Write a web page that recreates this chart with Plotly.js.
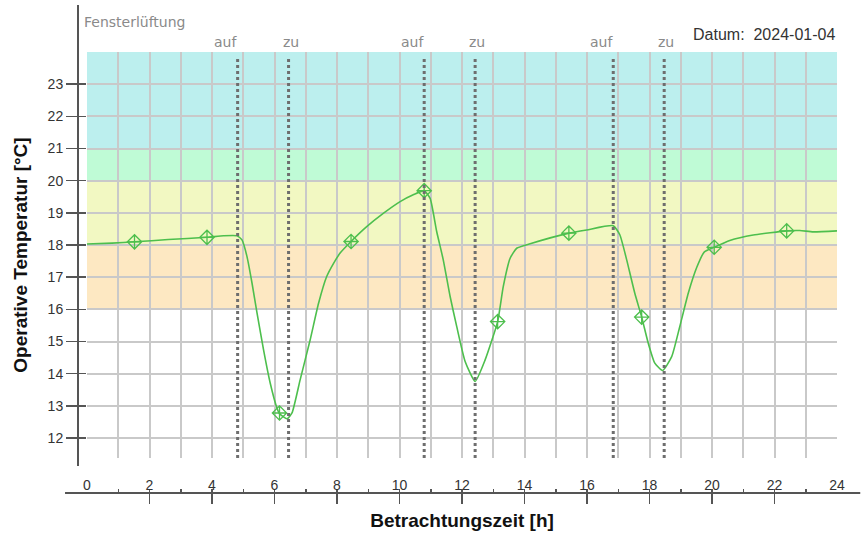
<!DOCTYPE html>
<html>
<head>
<meta charset="utf-8">
<script src="https://cdn.plot.ly/plotly-3.0.1.min.js"></script>
<style>html,body{margin:0;padding:0;background:#fff;}#chart{width:861px;height:538px;}</style>
</head>
<body>
<div id="chart"></div>
<script>
// Temperature curve (hours, °C)
const hours = [0.00, 0.80, 1.52, 2.60, 3.84, 4.37, 4.80, 4.96, 5.12, 5.28, 5.44, 5.65, 5.86, 6.08, 6.16, 6.40, 6.56, 6.82, 7.14, 7.41, 7.67, 7.89, 8.10, 8.45, 8.95, 9.49, 10.02, 10.44, 10.79, 10.98, 11.19, 11.40, 11.62, 11.83, 12.10, 12.42, 12.74, 13.14, 13.32, 13.54, 13.75, 14.18, 15.42, 15.99, 16.84, 17.05, 17.27, 17.53, 17.75, 17.96, 18.17, 18.42, 18.71, 18.97, 19.24, 19.51, 19.75, 20.07, 20.57, 21.32, 22.39, 22.81, 23.24, 24.00];
const temps = [18.03, 18.06, 18.10, 18.17, 18.24, 18.29, 18.29, 18.16, 17.64, 16.82, 15.89, 14.74, 13.72, 12.93, 12.76, 12.60, 12.78, 13.81, 15.05, 16.19, 17.02, 17.43, 17.75, 18.11, 18.57, 18.99, 19.35, 19.56, 19.69, 19.45, 18.42, 17.54, 16.40, 15.47, 14.38, 13.76, 14.43, 15.62, 16.71, 17.59, 17.90, 18.04, 18.37, 18.47, 18.60, 18.32, 17.54, 16.50, 15.76, 14.95, 14.33, 14.10, 14.53, 15.47, 16.50, 17.30, 17.78, 17.93, 18.14, 18.31, 18.44, 18.45, 18.41, 18.44];
// Marker points
const markerHours = [1.52, 3.84, 6.16, 8.45, 10.79, 13.14, 15.42, 17.75, 20.07, 22.39];
const markerTemps = [18.10, 18.24, 12.78, 18.11, 19.69, 15.62, 18.37, 15.76, 17.93, 18.44];
// Window ventilation events
const eventHours = [4.82, 6.45, 10.79, 12.42, 16.84, 18.47];
const eventLabels = ['auf', 'zu', 'auf', 'zu', 'auf', 'zu'];
// Comfort bands
const bandLow = [16, 18, 20, 21];
const bandHigh = [18, 20, 21, 24];
const bandColors = ['#fde8c2', '#f2f8c2', '#bffbd6', '#bcefee'];
// Axis ticks
const xTickVals = [0, 2, 4, 6, 8, 10, 12, 14, 16, 18, 20, 22, 24];
const yTickVals = [12, 13, 14, 15, 16, 17, 18, 19, 20, 21, 22, 23];
const dateText = 'Datum:  2024-01-04';

const green = '#4dbf4d';
const shapes = [];
bandLow.forEach((lo, i) => {
  shapes.push({type: 'rect', xref: 'x domain', yref: 'y', x0: 0, x1: 1, y0: lo, y1: bandHigh[i],
    fillcolor: bandColors[i], line: {width: 0}, layer: 'below'});
});
eventHours.forEach(h => {
  shapes.push({type: 'line', xref: 'x', yref: 'y domain', x0: h, x1: h, y0: 0, y1: 0.985,
    line: {color: '#6e6e6e', width: 3, dash: 'dot'}, layer: 'above'});
});
// y axis line (left of plot area)
shapes.push({type: 'line', xref: 'paper', yref: 'paper', x0: -0.012, x1: -0.012, y0: 0.092, y1: 1.103,
  line: {color: '#555', width: 2}});
// x axis line (below plot)
shapes.push({type: 'line', xref: 'paper', yref: 'paper', x0: -0.0293, x1: 1.031, y0: 0.0329, y1: 0.0329,
  line: {color: '#555', width: 2}});

const annotations = [];
eventHours.forEach((h, i) => {
  annotations.push({x: h, xref: 'x', y: 1.022, yref: 'paper', yanchor: 'middle', text: eventLabels[i], showarrow: false,
    xshift: eventLabels[i] === 'auf' ? -12 : 2, font: {family: 'DejaVu Sans', size: 14, color: '#8a8a8a'}});
});
annotations.push({x: -0.0067, xref: 'paper', xanchor: 'left', y: 1.066, yref: 'paper', yanchor: 'middle', text: 'Fensterlüftung',
  showarrow: false, font: {family: 'DejaVu Sans', size: 14, color: '#8a8a8a'}});
annotations.push({x: 1.0, xref: 'paper', xanchor: 'right', y: 1.039, yref: 'paper', yanchor: 'middle', text: dateText,
  showarrow: false, font: {family: 'Liberation Sans, Arial', size: 16, color: '#333'}});

const data = [
  {x: hours, y: temps, type: 'scatter', mode: 'lines', line: {color: green, width: 1.6, shape: 'spline', smoothing: 0.5},
   hoverinfo: 'skip', showlegend: false},
  {x: markerHours, y: markerTemps, type: 'scatter', mode: 'markers', xaxis: 'x2', yaxis: 'y',
   marker: {symbol: 'diamond-cross-open', size: 11, color: green, line: {width: 1.3, color: green}}, showlegend: false}
];

const layout = {
  width: 861, height: 538,
  margin: {l: 87, r: 24, t: 52, b: 30},
  paper_bgcolor: '#fff', plot_bgcolor: '#fff',
  font: {family: 'Liberation Sans, Arial', color: '#333'},
  showlegend: false,
  xaxis: {range: [0, 24], dtick: 1, showgrid: true, gridcolor: '#c9c9c9', gridwidth: 2, zeroline: false,
    showline: false, showticklabels: false, ticks: '',
    title: {text: 'Betrachtungszeit [h]', font: {size: 19, color: '#111', weight: 'bold'}, standoff: 55}},
  xaxis2: {overlaying: 'x', anchor: 'free', position: 0.0329, side: 'top', range: [0, 24],
    tickvals: xTickVals, ticks: 'inside', ticklen: 10, tickwidth: 1.5, tickcolor: '#555',
    minor: {dtick: 1, ticks: 'outside', ticklen: 4, tickcolor: '#555', tickwidth: 1.5},
    showgrid: false, zeroline: false, showline: false, tickfont: {size: 14, color: '#333'}},
  yaxis: {domain: [0.1096, 1], range: [11.38, 24], tickvals: yTickVals, showgrid: true, gridcolor: '#c9c9c9', gridwidth: 2,
    zeroline: false, showline: false, ticks: 'outside', ticklen: 20, tickcolor: '#555', tickwidth: 1.5,
    tickfont: {size: 14, color: '#333'},
    title: {text: 'Operative Temperatur [°C]', font: {size: 19, color: '#111', weight: 'bold'}, standoff: 14}},
  shapes: shapes,
  annotations: annotations
};

Plotly.newPlot('chart', data, layout, {displayModeBar: false, staticPlot: true});
</script>
</body>
</html>
